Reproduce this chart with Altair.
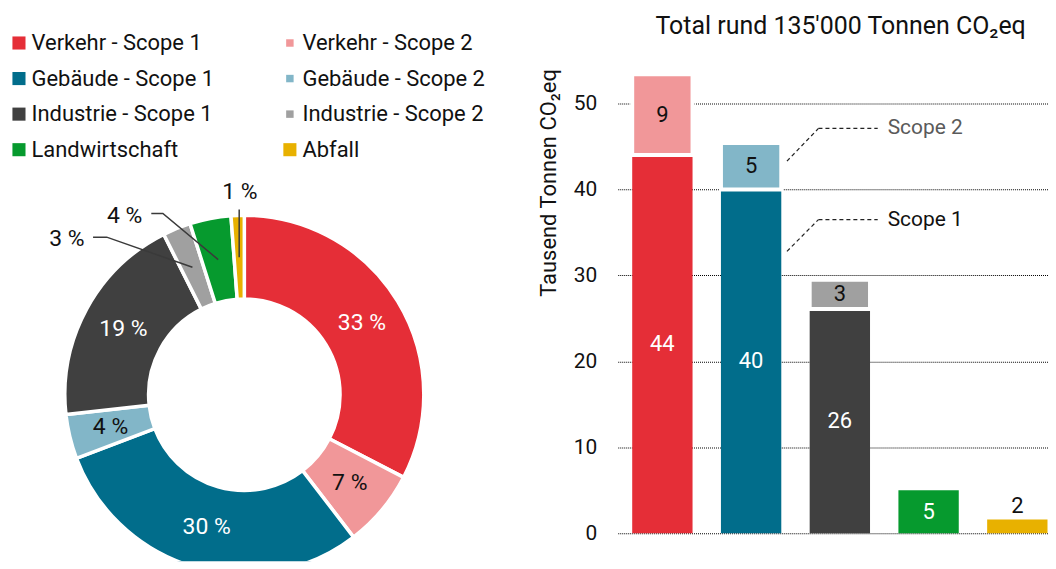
import math
import altair as alt
import pandas as pd

# ---------------- data ----------------
sectors = ["Verkehr", "Gebäude", "Industrie", "Landwirtschaft", "Abfall"]
scope1 = [44.0, 40.0, 26.1, 5.0, 1.6]          # Tausend Tonnen CO2eq
scope2 = [9.4, 5.4, 3.4, None, None]
legend_names = ["Verkehr - Scope 1", "Verkehr - Scope 2",
                "Gebäude - Scope 1", "Gebäude - Scope 2",
                "Industrie - Scope 1", "Industrie - Scope 2",
                "Landwirtschaft", "Abfall"]
colors = ["#E52E37", "#F19799", "#016D8B", "#82B6C8",
          "#404040", "#A0A0A0", "#069A2E", "#E8B100"]
y_ticks = [0, 10, 20, 30, 40, 50]
chart_title = "Total rund 135'000 Tonnen CO\u2082eq"
y_title = "Tausend Tonnen CO\u2082eq"
scope_notes = ["Scope 2", "Scope 1"]

# ---------------- styles ----------------
FONT = "Roboto"
TXT = "#111111"
dark_text_names = ["Verkehr - Scope 2", "Gebäude - Scope 2"]
outer_names = ["Industrie - Scope 2", "Landwirtschaft", "Abfall"]
CX, CY = 237, 327          # donut centre inside left view
R_OUT, R_IN, R_LAB = 180, 96, 138
outer_style = {
    "Industrie - Scope 2": dict(elbow=(-138, -158), end_x=-151.7, lab=(-178, -155.7)),
    "Landwirtschaft": dict(elbow=(-81.7, -181.7), end_x=-93.3, lab=(-120, -179.5)),
    "Abfall": dict(elbow=(None, -185.7), end_x=None, lab=(-4.5, -203.7)),
}
LEG_X = [11, 282.7]
LEG_Y = [-25.7, 81.3]

# ---------------- donut data ----------------
pie_values = [scope1[0], scope2[0], scope1[1], scope2[1],
              scope1[2], scope2[2], scope1[3], scope1[4]]
total = sum(pie_values)
pie = pd.DataFrame({"name": legend_names, "value": pie_values,
                    "idx": list(range(len(legend_names)))})
pie["pct"] = pie["value"] / total * 100
pie["label"] = [f"{round(p)} %" for p in pie["pct"]]
pie["inner_label"] = [l if n not in outer_names else "" for n, l in zip(pie["name"], pie["label"])]
pie["dark"] = [n in dark_text_names for n in pie["name"]]

cum = 0.0
line_rows, outer_rows = [], []
for n, p, lab in zip(pie["name"], pie["pct"], pie["label"]):
    mid = (cum + p / 2) / 100 * 2 * math.pi
    cum += p
    if n in outer_style:
        st = outer_style[n]
        sx = CX + R_LAB * math.sin(mid)
        sy = CY - R_LAB * math.cos(mid)
        ex = CX + st["elbow"][0] if st["elbow"][0] is not None else sx
        ey = CY + st["elbow"][1]
        pts = [(sx, sy), (ex, ey)]
        if st["end_x"] is not None:
            pts.append((CX + st["end_x"], ey))
        for k, (x, y) in enumerate(pts):
            line_rows.append({"seg": n, "k": k, "x": x, "y": y})
        outer_rows.append({"label": lab, "x": CX + st["lab"][0], "y": CY + st["lab"][1]})
lines_df = pd.DataFrame(line_rows)
outer_df = pd.DataFrame(outer_rows)

leg = pd.DataFrame({"name": legend_names,
                    "col": [i % 2 for i in range(len(legend_names))],
                    "row": [i // 2 for i in range(len(legend_names))],
                    "sym": ["small" if "Scope 2" in n else "big" for n in legend_names]})

color_scale = alt.Scale(domain=legend_names, range=colors)

lx = alt.X("col:O", scale=alt.Scale(type="point", range=LEG_X, padding=0), axis=None)
ly = alt.Y("row:O", scale=alt.Scale(type="point", range=LEG_Y, padding=0), axis=None)
leg_sq = alt.Chart(leg).mark_square(opacity=1).encode(
    x=lx, y=ly,
    color=alt.Color("name:N", scale=color_scale, legend=None),
    size=alt.Size("sym:N", scale=alt.Scale(domain=["big", "small"], range=[172, 56]), legend=None),
)
leg_txt = alt.Chart(leg).mark_text(align="left", baseline="middle", dx=12.6,
                                   fontSize=22, color=TXT).encode(x=lx, y=ly, text="name:N")

arcs = alt.Chart(pie).mark_arc(outerRadius=R_OUT, innerRadius=R_IN, stroke="white",
                               strokeWidth=3.5, clip=True).encode(
    theta=alt.Theta("value:Q", stack=True),
    order=alt.Order("idx:Q"),
    color=alt.Color("name:N", scale=color_scale, legend=None),
    x=alt.value(CX), y=alt.value(CY),
)
inner_txt = alt.Chart(pie).mark_text(radius=R_LAB, fontSize=23, align="center",
                                     baseline="middle").encode(
    theta=alt.Theta("value:Q", stack=True),
    order=alt.Order("idx:Q"),
    text="inner_label:N",
    color=alt.condition("datum.dark", alt.value(TXT), alt.value("white")),
    x=alt.value(CX), y=alt.value(CY),
)
leaders = alt.Chart(lines_df).mark_line(color="#3a3a3a", strokeWidth=1.5).encode(
    x=alt.X("x:Q", scale=None), y=alt.Y("y:Q", scale=None),
    detail="seg:N", order="k:Q",
)
outer_txt = alt.Chart(outer_df).mark_text(fontSize=23, align="center", baseline="middle",
                                          color=TXT).encode(
    x=alt.X("x:Q", scale=None), y=alt.Y("y:Q", scale=None), text="label:N")

left = alt.layer(leg_sq, leg_txt, arcs, inner_txt, leaders, outer_txt).resolve_scale(
    x="independent", y="independent").properties(width=480, height=494)

# ---------------- bar data ----------------
seg_rows = []
s1_keys = [legend_names[0], legend_names[2], legend_names[4], legend_names[6], legend_names[7]]
s2_keys = [legend_names[1], legend_names[3], legend_names[5], None, None]
for i, s in enumerate(sectors):
    v1 = scope1[i]
    seg_rows.append({"sector": s, "key": s1_keys[i], "lo": 0.0, "hi": v1, "scope": 1,
                     "lab": f"{v1:.0f}", "dark": v1 < 2})
    if scope2[i] is not None:
        v2 = scope2[i]
        seg_rows.append({"sector": s, "key": s2_keys[i], "lo": v1, "hi": v1 + v2, "scope": 2,
                         "lab": f"{v2:.0f}", "dark": True})
segs = pd.DataFrame(seg_rows)
segs["mid"] = (segs["lo"] + segs["hi"]) / 2
segs["size"] = segs["hi"] - segs["lo"]

bx = alt.X("sector:N", sort=sectors,
           scale=alt.Scale(paddingInner=0.32, paddingOuter=0.0815, align=1), axis=None)
yscale = alt.Scale(domain=[0, 54.06], nice=False)
yaxis = alt.Axis(values=y_ticks, grid=True, gridDash=[1, 1], gridColor="#000", gridWidth=1.1,
                 domain=False, ticks=False, labelFontSize=21, labelColor=TXT, labelPadding=21,
                 title=y_title, titleAnchor="end", titleFontSize=22, titleFontWeight="normal",
                 titleColor=TXT, titlePadding=13)

base = alt.Chart(segs)
bars1 = base.transform_filter("datum.scope == 1").mark_bar().encode(
    x=bx, y=alt.Y("lo:Q", scale=yscale, axis=yaxis), y2="hi:Q",
    color=alt.Color("key:N", scale=color_scale, legend=None))
bars2 = base.transform_filter("datum.scope == 2").mark_bar(stroke="white", strokeWidth=4).encode(
    x=bx, y=alt.Y("lo:Q", scale=yscale, axis=yaxis), y2="hi:Q",
    color=alt.Color("key:N", scale=color_scale, legend=None))
lab_in = base.transform_filter("datum.size >= 2").mark_text(fontSize=22, baseline="middle").encode(
    x=bx, y=alt.Y("mid:Q", scale=yscale), text="lab:N",
    color=alt.condition("datum.dark", alt.value(TXT), alt.value("white")))
lab_out = base.transform_filter("datum.size < 2").mark_text(fontSize=22, baseline="bottom", dy=-1.5,
                                                             color=TXT).encode(
    x=bx, y=alt.Y("hi:Q", scale=yscale), text="lab:N")

# annotation leaders (pixel x inside the plot, data y)
ann_lines = pd.DataFrame({"x1": [169.7, 201.3, 169.7, 201.3],
                          "x2": [201.3, 260.7, 201.3, 260.7],
                          "y1": [43.3, 47.1, 32.8, 36.5],
                          "y2": [47.1, 47.1, 36.5, 36.5]})
ann_layers = []
for i in range(len(ann_lines)):
    r = ann_lines.iloc[i]
    ann_layers.append(
        alt.Chart(ann_lines.iloc[[i]]).mark_rule(strokeDash=[4, 3], strokeWidth=1.2, color="#222").encode(
            x=alt.value(float(r.x1)), x2=alt.value(float(r.x2)),
            y=alt.Y("y1:Q", scale=yscale), y2="y2:Q"))
ann_text = pd.DataFrame({"y": [47.1, 36.5], "t": scope_notes, "grey": [True, False]})
ann_t = alt.Chart(ann_text).mark_text(fontSize=21, align="left", baseline="middle").encode(
    x=alt.value(270.7), y=alt.Y("y:Q", scale=yscale), text="t:N",
    color=alt.condition("datum.grey", alt.value("#5a5a5a"), alt.value(TXT)))

right = alt.layer(bars1, bars2, lab_in, lab_out, *ann_layers, ann_t).properties(
    width=431, height=466,
    title=alt.TitleParams(text=["", chart_title], fontSize=25, fontWeight="normal", color=TXT,
                          lineHeight=5, offset=30, dx=8, anchor="middle"))

chart = alt.hconcat(left, right, spacing=50.5).properties(padding=0).configure(
    font=FONT).configure_view(stroke=None)

chart.save("out.html", embed_options={"renderer": "svg", "actions": False})
